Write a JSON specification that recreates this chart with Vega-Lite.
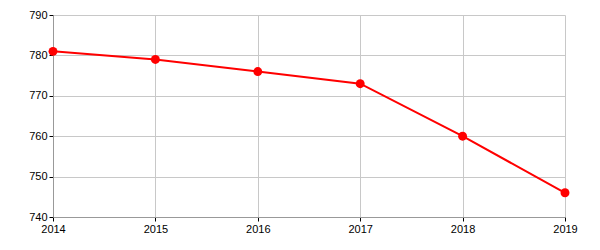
{
  "$schema": "https://vega.github.io/schema/vega-lite/v6.json",
  "width": 512,
  "height": 202,
  "autosize": {"type": "none"},
  "padding": {"left": 53, "top": 15, "right": 35, "bottom": 33},
  "config": {
    "view": {"stroke": null},
    "axis": {
      "labelFont": "Liberation Sans",
      "labelFontSize": 11,
      "labelColor": "#000",
      "gridColor": "#c8c8c8",
      "gridOpacity": 1,
      "domainColor": "#999",
      "tickColor": "#000",
      "tickSize": 4,
      "labelPadding": 2
    }
  },
  "data": {
    "values": [
      {"year": 2014, "value": 781},
      {"year": 2015, "value": 779},
      {"year": 2016, "value": 776},
      {"year": 2017, "value": 773},
      {"year": 2018, "value": 760},
      {"year": 2019, "value": 746}
    ]
  },
  "encoding": {
    "x": {
      "field": "year", "type": "quantitative",
      "scale": {"domain": [2014, 2019], "nice": false, "zero": false},
      "axis": {"title": null, "format": "d", "values": [2014, 2015, 2016, 2017, 2018, 2019], "labelFlush": false}
    },
    "y": {
      "field": "value", "type": "quantitative",
      "scale": {"domain": [740, 790], "nice": false, "zero": false},
      "axis": {"title": null, "values": [740, 750, 760, 770, 780, 790]}
    }
  },
  "layer": [
    {"mark": {"type": "line", "color": "#ff0000", "strokeWidth": 2}},
    {"mark": {"type": "point", "filled": true, "color": "#ff0000", "size": 80, "opacity": 1}}
  ]
}
